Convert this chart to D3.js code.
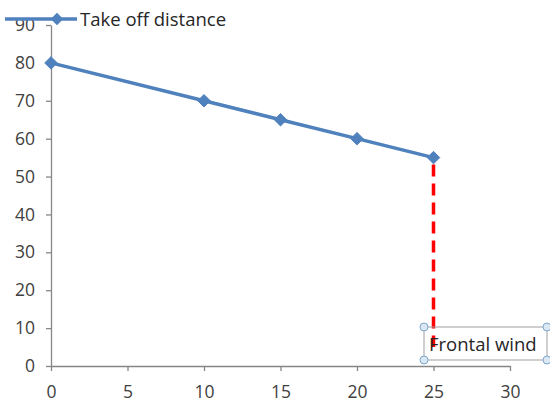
<!DOCTYPE html>
<html><head><meta charset="utf-8">
<script src="https://cdn.jsdelivr.net/npm/d3@7"></script>
<style>body{margin:0;background:#fff}svg{display:block}</style>
</head><body>
<svg id="c" width="550" height="407"></svg>
<script>
const seriesName = "Take off distance";
const xValues = [0, 10, 15, 20, 25];
const yValues = [80, 70, 65, 60, 55];
const xTicks = [0, 5, 10, 15, 20, 25, 30];
const yTicks = [0, 10, 20, 30, 40, 50, 60, 70, 80, 90];
const markerX = [25];
const markerRange = [55, 5];
const annotation = "Frontal wind";

const svg = d3.select("#c");
const x = d3.scaleLinear().domain([0, 30]).range([51, 510]);
const y = d3.scaleLinear().domain([0, 90]).range([366, 25]);
const font = "'Open Sans', 'Noto Sans', sans-serif";
const axisColor = "#868686";

const gx = svg.append("g").attr("transform", "translate(0,366)")
  .call(d3.axisBottom(x).tickValues(xTicks).tickSizeOuter(0).tickSizeInner(5).tickPadding(15));
const gy = svg.append("g").attr("transform", "translate(51,0)")
  .call(d3.axisLeft(y).tickValues(yTicks).tickSizeOuter(0).tickSizeInner(5).tickPadding(11));
[gx, gy].forEach(g => {
  g.attr("font-size", null).attr("font-family", null);
  g.selectAll("path,line").attr("stroke", axisColor).attr("stroke-width", 1.3);
  g.selectAll("text").attr("fill", "#404040").style("font-family", font).style("font-size", "17.5px");
});

// red dashed line
svg.append("line")
  .attr("x1", x(markerX[0])).attr("x2", x(markerX[0]))
  .attr("y1", y(markerRange[0]) + 7).attr("y2", y(markerRange[1]))
  .attr("stroke", "#FF0000").attr("stroke-width", 3.5).attr("stroke-dasharray", "12,7");

// series line
const line = d3.line().x((d, i) => x(xValues[i])).y(d => y(d));
svg.append("path").datum(yValues).attr("d", line)
  .attr("fill", "none").attr("stroke", "#4F81BD").attr("stroke-width", 3.5).attr("stroke-linejoin", "round");
const diamond = d3.symbol().type(d3.symbolDiamond2).size(100);
svg.selectAll(".m").data(yValues).enter().append("path")
  .attr("d", diamond)
  .attr("transform", (d, i) => `translate(${x(xValues[i])},${y(d)})`)
  .attr("fill", "#4F81BD").attr("stroke", "#4F81BD").attr("stroke-width", 1);

// legend
const lg = svg.append("g");
lg.append("line").attr("x1", 5).attr("x2", 77).attr("y1", 19).attr("y2", 19)
  .attr("stroke", "#4F81BD").attr("stroke-width", 3.5);
lg.append("path").attr("d", diamond).attr("transform", "translate(57,19)").attr("fill", "#4F81BD");
lg.append("text").attr("x", 80).attr("y", 26).text(seriesName)
  .attr("fill", "#262626").style("font-family", font).style("font-size", "18.5px");

// annotation box
const bx = 424, by = 327, bw = 123, bh = 33;
svg.append("rect").attr("x", bx).attr("y", by).attr("width", bw).attr("height", bh)
  .attr("fill", "none").attr("stroke", "#a0a0a0").attr("stroke-width", 1);
svg.append("text").attr("x", 429).attr("y", 351).text(annotation)
  .attr("fill", "#262626").style("font-family", font).style("font-size", "18.5px");
[[bx, by], [bx + bw, by], [bx, by + bh], [bx + bw, by + bh]].forEach(([cx, cy]) => {
  svg.append("circle").attr("cx", cx).attr("cy", cy).attr("r", 4)
    .attr("fill", "#dbe7f3").attr("stroke", "#7fa6cc").attr("stroke-width", 1);
});
</script>
</body></html>
